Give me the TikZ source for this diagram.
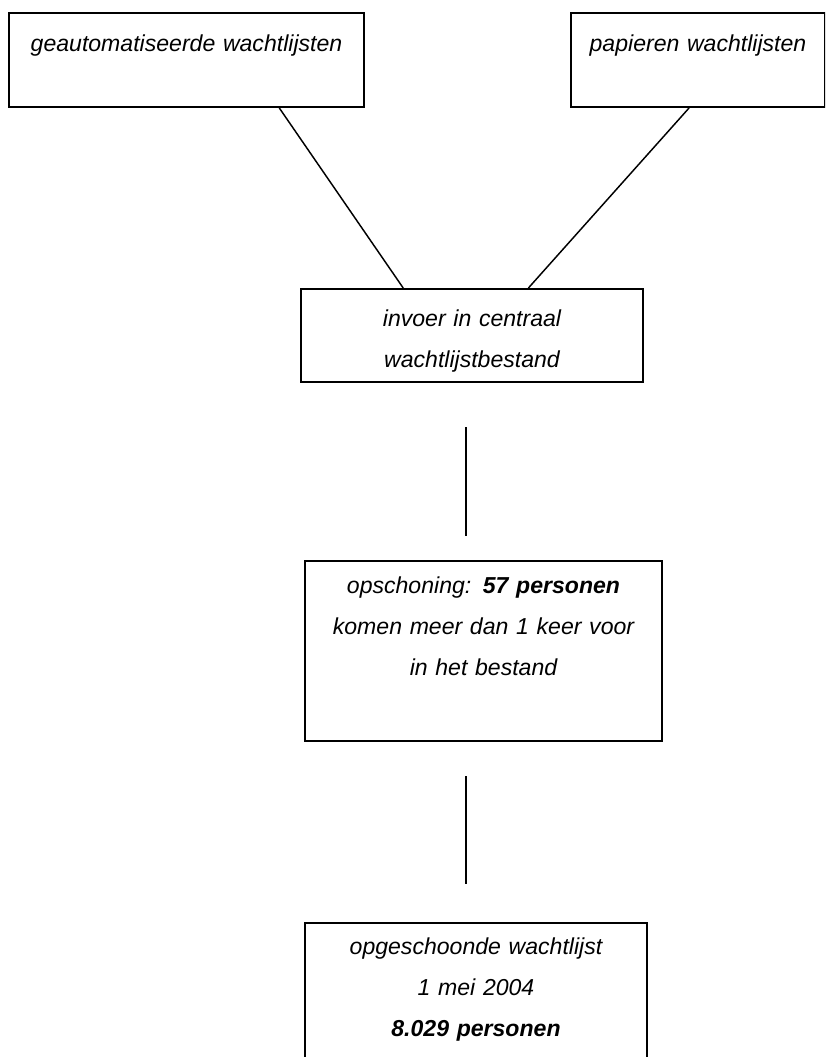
\documentclass[tikz,border=0pt]{standalone}
\usepackage{fontspec}
\usetikzlibrary{calc}
\newfontfamily\stapfamily{Liberation Sans}
\newcommand{\stapfont}{\stapfamily\fontsize{17.3}{31}\selectfont\itshape}

\tikzset{
    stap/.style={draw, line width=1.5pt, rectangle, inner xsep=0pt, inner ysep=0pt,
        align=center, font=\stapfont, anchor=north west},
    schuin/.style={line width=1.1pt},
    recht/.style={line width=1.6pt},
}

\begin{document}
\begin{tikzpicture}[x=0.75pt, y=-0.75pt]
        % Canvas
        \clip (0,0) rectangle (825,1057);
        \fill[white] (0,0) rectangle (825,1057);

        % Bronnen
        \node[stap, text width=266.25pt, text height=28.5pt, text depth=42pt] (auto) at (8,12)
            {geautomatiseerde wachtlijsten};
        \node[stap, text width=190.5pt, text height=28.5pt, text depth=42pt] (papier) at (570,12)
            {papieren wachtlijsten};

        % Invoer
        \node[stap, text width=256.5pt, text height=27.75pt, text depth=42pt] (invoer) at (300,288)
            {invoer in centraal\\wachtlijstbestand};

        % Opschoning
        \node[stap, text width=267.75pt, text height=24pt, text depth=111pt] (opschoning) at (304,560)
            {opschoning: \textbf{57 personen}\\komen meer dan 1 keer voor\\in het bestand};

        % Resultaat
        \node[stap, text width=256.5pt, text height=23.25pt, text depth=150pt] (resultaat) at (304,922)
            {opgeschoonde wachtlijst\\1 mei 2004\\\textbf{8.029 personen}};

        % Verbindingen
        \draw[schuin] ($(auto.south west)!0.76!(auto.south east)$) -- ($(invoer.north west)!0.30!(invoer.north east)$);
        \draw[schuin] ($(papier.south west)!0.465!(papier.south east)$) -- ($(invoer.north west)!0.664!(invoer.north east)$);

        \coordinate (stap1a) at (466,427);
        \coordinate (stap1b) at (466,536);
        \coordinate (stap2a) at (466,776);
        \coordinate (stap2b) at (466,884);
        \draw[recht] (stap1a) -- (stap1b);
        \draw[recht] (stap2a) -- (stap2b);
    \end{tikzpicture}
\end{document}
